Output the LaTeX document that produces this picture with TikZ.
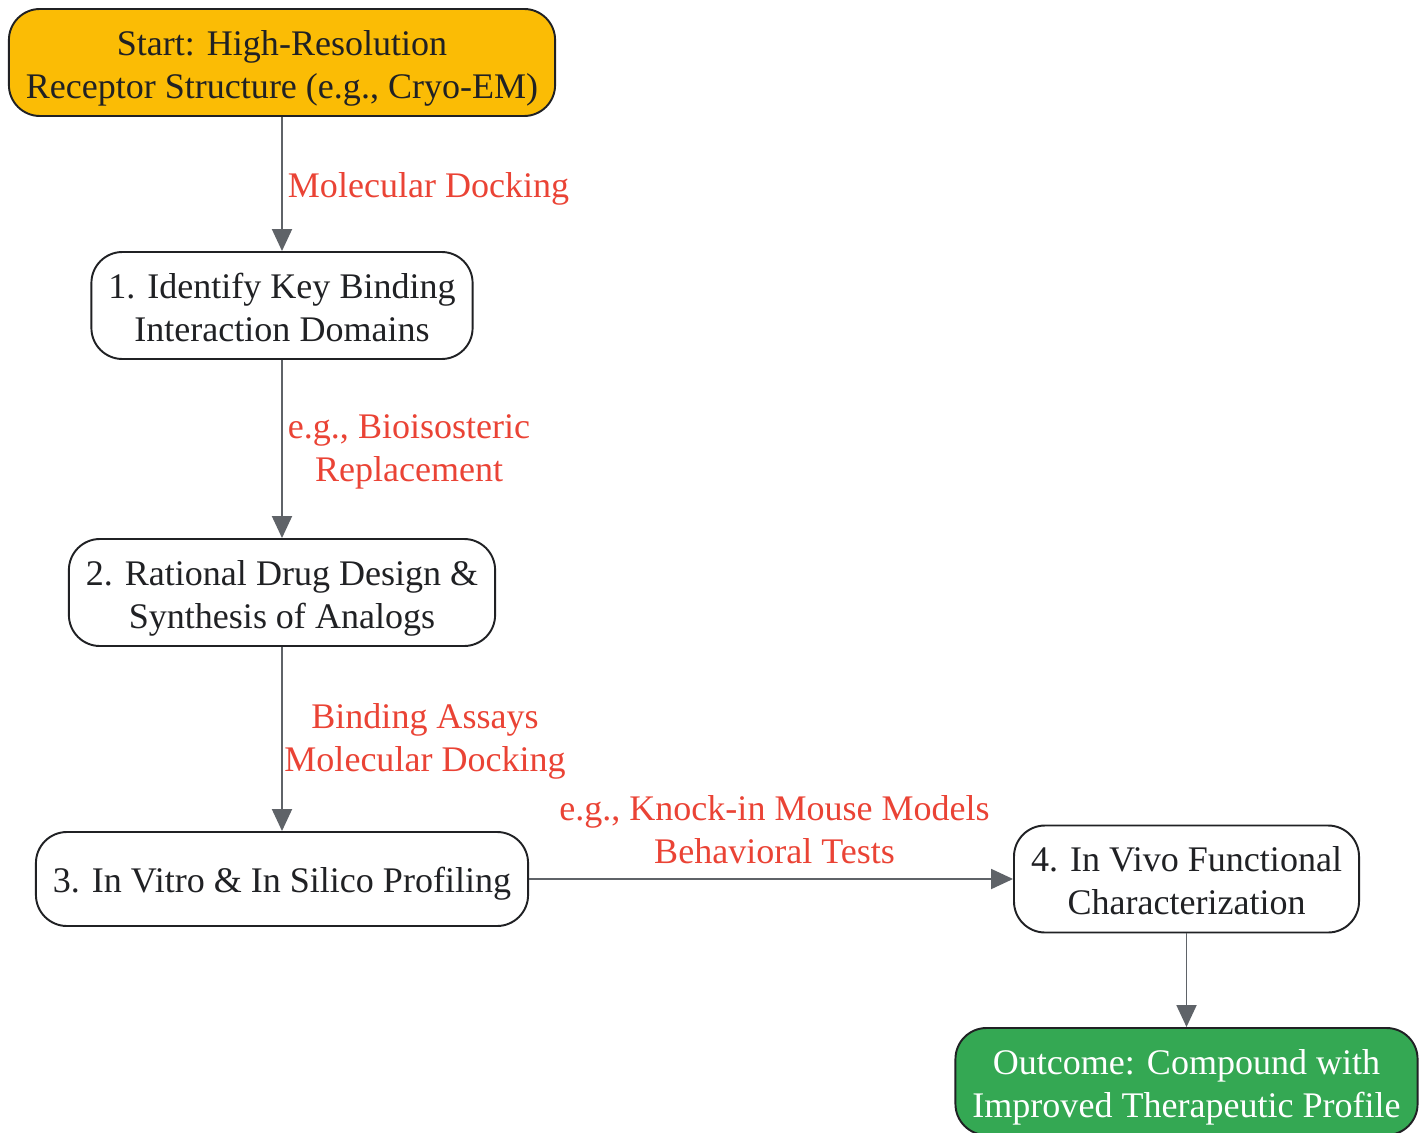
\documentclass[tikz,border=0pt]{standalone}
\usepackage{fontspec}
\setmainfont{Liberation Serif}
\usepackage{tikz}
\usetikzlibrary{
  shapes,
  calc,
  positioning,
  arrows.meta
}
\definecolor{startfill}{HTML}{FBBC05}
\definecolor{endfill}{HTML}{34A853}
\definecolor{inkdark}{HTML}{202124}
\definecolor{edgegray}{HTML}{5F6368}
\definecolor{lblred}{HTML}{EA4335}
\tikzset{
  stepbox/.style = {draw=inkdark, line width=1.1pt, rounded corners=0.62cm,
    fill=white, text=inkdark, align=center, inner xsep=0.34cm,
    font=\fontsize{20.5}{24.4}\selectfont},
  twoline/.style = {minimum height=2.14cm,
    execute at begin node={\rule[-6pt]{0pt}{52.5pt}}},
  oneline/.style = {minimum height=1.88cm,
    execute at begin node={\rule[-6pt]{0pt}{27pt}}},
  flow/.style = {draw=edgegray, line width=1.1pt,
    -{Triangle[length=0.44cm,width=0.4cm]}},
  lbl/.style = {text=lblred, align=center, inner sep=0.1cm,
    font=\fontsize{20.5}{24.4}\selectfont}
}

\begin{document}
\begin{tikzpicture}
    \useasboundingbox (0,0) rectangle (28.56,-22.64);

    \node[stepbox,twoline,fill=startfill] (start) at (5.64,-1.25)
      {Start: High-Resolution\\Receptor Structure (e.g., Cryo-EM)};
    \node[stepbox,twoline] (1) at (5.64,-6.11)
      {1. Identify Key Binding\\Interaction Domains};
    \node[stepbox,twoline] (2) at (5.64,-11.85)
      {2. Rational Drug Design \&\\Synthesis of Analogs};
    \node[stepbox,oneline] (3) at (5.64,-17.58)
      {3. In Vitro \& In Silico Profiling};
    \node[stepbox,twoline] (4) at (23.73,-17.58)
      {4. In Vivo Functional\\Characterization};
    \node[stepbox,twoline,fill=endfill,text=white] (out) at (23.73,-21.63)
      {Outcome: Compound with\\Improved Therapeutic Profile};

    \draw[flow] (start) -- node[lbl,anchor=west,yshift=-0.1cm] {Molecular Docking} (1);
    \draw[flow] (1) -- node[lbl,anchor=west,yshift=-0.06cm] {e.g., Bioisosteric\\Replacement} (2);
    \draw[flow] (2) -- node[lbl,xshift=2.86cm,yshift=-0.05cm] {Binding Assays\\Molecular Docking} (3);
    \draw[flow] (3) -- node[lbl,anchor=south,xshift=0.07cm,yshift=0.18cm] {e.g., Knock-in Mouse Models\\Behavioral Tests} (4);
    \draw[flow] (4) -- (out);
  \end{tikzpicture}
\end{document}
